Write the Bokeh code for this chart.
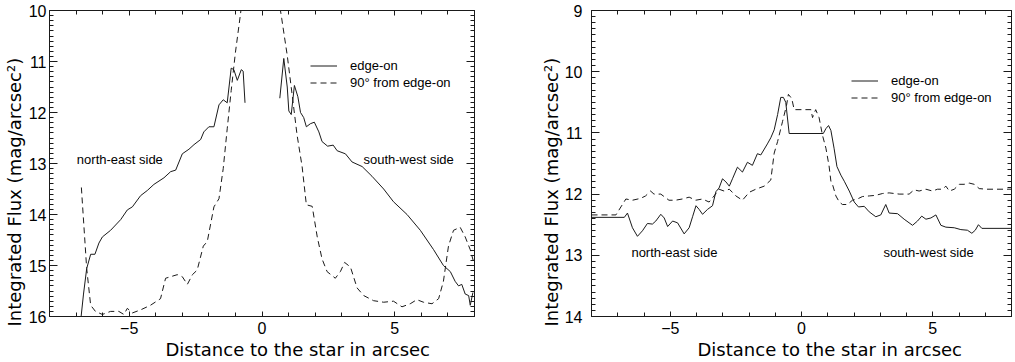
from bokeh.plotting import figure
from bokeh.models import Range1d, LinearAxis, FixedTicker, Legend, LegendItem, Label, Title
from bokeh.layouts import row
from bokeh.embed import file_html
from bokeh.resources import INLINE
import numpy as np

FONT = "Liberation Sans"
AXFONT = "DejaVu Sans"

# ---------------- data: left panel ----------------
left_ne_edge_x = [-6.82, -6.72, -6.60, -6.45, -6.29, -6.14, -6.01, -5.70, -5.32, -5.07, -4.88, -4.57,
                  -4.32, -4.07, -3.69, -3.44, -3.25, -3.00, -2.75, -2.56, -2.31, -2.19, -2.00, -1.81,
                  -1.62, -1.46, -1.31, -1.16, -1.06, -0.93, -0.78, -0.71, -0.64]
left_ne_edge_y = [16.05, 15.56, 15.06, 14.78, 14.78, 14.56, 14.44, 14.31, 14.10, 13.91, 13.85, 13.63,
                  13.53, 13.41, 13.28, 13.16, 13.13, 12.81, 12.72, 12.63, 12.53, 12.38, 12.28, 12.28,
                  11.85, 11.75, 11.81, 11.13, 11.16, 11.37, 11.16, 11.19, 11.81]

left_sw_edge_x = [0.67, 0.82, 0.95, 1.01, 1.10, 1.22, 1.35, 1.45, 1.57, 1.67, 1.82, 1.97, 2.14, 2.26,
                  2.47, 2.68, 2.83, 3.14, 3.39, 3.77, 4.14, 4.58, 4.95, 5.46, 5.96, 6.46, 6.83, 7.09,
                  7.27, 7.40, 7.52, 7.65, 7.78, 7.84, 7.94]
left_sw_edge_y = [11.72, 10.94, 11.50, 11.97, 12.04, 11.47, 11.69, 12.00, 12.10, 12.28, 12.22, 12.19,
                  12.38, 12.57, 12.66, 12.64, 12.75, 12.81, 12.97, 13.06, 13.25, 13.50, 13.75, 14.00,
                  14.31, 14.69, 15.00, 15.12, 15.31, 15.40, 15.37, 15.56, 15.59, 15.78, 15.53]

left_ne_perp_x = [-6.80, -6.60, -6.45, -6.27, -6.01, -5.70, -5.39, -5.20, -5.07, -4.88, -4.57, -4.20,
                  -3.82, -3.63, -3.44, -3.19, -3.00, -2.81, -2.62, -2.44, -2.21, -2.06, -1.81, -1.62,
                  -1.46, -1.31, -1.16, -1.00, -0.81, -0.76]
left_ne_perp_y = [13.47, 15.06, 15.78, 15.90, 15.96, 15.90, 15.90, 15.96, 15.84, 15.93, 15.87, 15.78,
                  15.65, 15.25, 15.22, 15.18, 15.22, 15.37, 15.18, 15.09, 14.62, 14.53, 13.85, 13.69,
                  13.10, 12.32, 11.57, 10.82, 10.07, 9.85]

left_sw_perp_x = [0.68, 0.74, 0.95, 1.13, 1.32, 1.51, 1.67, 1.89, 2.08, 2.26, 2.45, 2.76, 2.95, 3.11,
                  3.33, 3.58, 3.83, 4.20, 4.58, 4.95, 5.27, 5.58, 5.83, 6.08, 6.40, 6.65, 6.83, 7.02,
                  7.21, 7.46, 7.65, 7.84, 7.95]
left_sw_perp_y = [9.95, 10.15, 10.88, 11.63, 12.44, 13.06, 13.81, 13.84, 14.44, 14.87, 15.12, 15.25,
                  15.12, 14.94, 15.03, 15.44, 15.59, 15.69, 15.72, 15.70, 15.81, 15.75, 15.67, 15.72,
                  15.75, 15.65, 15.31, 14.62, 14.31, 14.25, 14.44, 14.69, 14.90]

# ---------------- data: right panel ----------------
right_edge_x = [-8.00, -6.75, -6.63, -6.44, -6.25, -6.06, -5.87, -5.68, -5.55, -5.36, -5.23, -5.10,
                -4.91, -4.72, -4.47, -4.28, -4.15, -4.02, -3.90, -3.77, -3.58, -3.39, -3.26, -3.14,
                -3.01, -2.88, -2.75, -2.63, -2.44, -2.25, -2.06, -1.87, -1.68, -1.55, -1.30, -1.17,
                -1.04, -0.91, -0.79, -0.69, -0.60, -0.47, 0.83, 0.93, 1.03, 1.12, 1.24, 1.35, 1.50,
                1.63, 1.82, 2.01, 2.17, 2.39, 2.58, 2.83, 3.02, 3.21, 3.34, 3.66, 3.91, 4.23, 4.42,
                4.58, 4.74, 4.93, 5.12, 5.31, 5.50, 5.82, 6.07, 6.32, 6.49, 6.62, 6.74, 6.87, 8.00]
right_edge_y = [12.38, 12.38, 12.31, 12.55, 12.69, 12.60, 12.48, 12.49, 12.44, 12.33, 12.39, 12.53,
                12.44, 12.47, 12.65, 12.55, 12.37, 12.19, 12.25, 12.33, 12.25, 12.19, 11.96, 11.90,
                11.75, 11.80, 11.87, 11.75, 11.56, 11.64, 11.48, 11.53, 11.34, 11.36, 11.18, 11.08,
                10.95, 10.70, 10.42, 10.42, 10.50, 11.01, 11.01, 10.93, 10.88, 10.96, 11.25, 11.55,
                11.69, 11.79, 11.95, 12.13, 12.21, 12.20, 12.29, 12.37, 12.34, 12.17, 12.31, 12.32,
                12.41, 12.51, 12.44, 12.36, 12.41, 12.39, 12.34, 12.51, 12.54, 12.55, 12.58, 12.59,
                12.64, 12.59, 12.50, 12.56, 12.56]

right_perp_x = [-8.00, -7.07, -6.88, -6.69, -6.44, -6.13, -5.94, -5.75, -5.62, -5.36, -5.05, -4.80,
                -4.54, -4.28, -4.03, -3.77, -3.52, -3.33, -3.14, -2.95, -2.75, -2.50, -2.25, -1.99,
                -1.74, -1.42, -1.17, -1.04, -0.91, -0.72, -0.57, -0.50, -0.37, -0.28, 0.36, 0.42,
                0.54, 0.67, 0.80, 0.93, 1.05, 1.12, 1.18, 1.31, 1.44, 1.56, 1.75, 1.94, 2.13, 2.32,
                2.58, 2.83, 3.09, 3.34, 3.53, 3.72, 3.91, 4.10, 4.29, 4.48, 4.74, 4.99, 5.18, 5.37,
                5.50, 5.63, 5.82, 6.01, 6.20, 6.39, 6.58, 6.77, 7.02, 8.00]
right_perp_y = [12.34, 12.34, 12.21, 12.08, 12.10, 12.07, 12.03, 11.95, 12.00, 12.00, 12.10, 12.10,
                12.08, 12.05, 12.10, 12.08, 12.13, 12.03, 11.92, 11.95, 11.92, 12.03, 12.10, 11.97,
                11.92, 11.87, 11.77, 11.33, 11.14, 10.81, 10.55, 10.37, 10.44, 10.62, 10.62, 10.75,
                10.62, 10.75, 11.04, 11.25, 11.54, 11.79, 11.84, 12.03, 12.13, 12.17, 12.17, 12.10,
                12.08, 12.04, 12.03, 12.02, 11.99, 11.98, 11.99, 12.00, 12.00, 12.00, 11.93, 11.95,
                11.92, 11.95, 11.92, 11.92, 11.87, 11.95, 11.92, 11.84, 11.84, 11.82, 11.84, 11.91,
                11.92, 11.92]

# ---------------- ticks / labels ----------------
x_ticks = [-5, 0, 5]
x_minor = list(range(-8, 9))
left_y_ticks = [10, 11, 12, 13, 14, 15, 16]
right_y_ticks = [9, 10, 11, 12, 13, 14]
x_title = "Distance to the star in arcsec"
y_title = "Integrated Flux (mag/arcsec²)"
series_names = ["edge-on", "90° from edge-on"]
notes_left = ["north-east side", "south-west side"]
notes_right = ["north-east side", "south-west side"]

INK = "#1a1a1a"
DASH = "6 4"
FRAME_H = 306


def style_axis(ax, ticker, labels=True, is_x=True, tick_standoff=4):
    ax.ticker = ticker
    ax.axis_line_color = INK
    ax.axis_line_width = 1
    ax.major_tick_line_color = INK
    ax.minor_tick_line_color = INK
    ax.major_tick_out = 0
    ax.minor_tick_out = 0
    if is_x:
        ax.major_tick_in = 5
        ax.minor_tick_in = 4
    else:
        ax.major_tick_in = 8
        ax.minor_tick_in = 4
    if labels:
        ax.major_label_text_font = FONT
        ax.major_label_text_font_size = "16px"
        ax.major_label_text_color = "black"
        ax.major_label_standoff = tick_standoff
    else:
        ax.major_label_overrides = {t: "" for t in ticker.ticks}
        ax.major_label_standoff = 0


def make_panel(frame_w, bl, br, y0, y1, yticks, ytick_so, xt_off, yt_so):
    p = figure(frame_width=frame_w, frame_height=FRAME_H, x_range=Range1d(-8, 8), y_range=Range1d(y1, y0),
               output_backend="svg", toolbar_location=None,
               min_border_left=bl, min_border_right=br, min_border_top=10, min_border_bottom=20)
    p.grid.visible = False
    p.outline_line_color = None
    minors_y = list(np.round(np.arange(y0, y1 + 0.001, 0.1), 2))
    style_axis(p.xaxis[0], FixedTicker(ticks=x_ticks, minor_ticks=x_minor), True, True, 5)
    style_axis(p.yaxis[0], FixedTicker(ticks=yticks, minor_ticks=minors_y), True, False, ytick_so)
    top = LinearAxis()
    style_axis(top, FixedTicker(ticks=x_ticks, minor_ticks=x_minor), False, True)
    right = LinearAxis()
    style_axis(right, FixedTicker(ticks=yticks, minor_ticks=minors_y), False, False)
    p.add_layout(top, "above")
    p.add_layout(right, "right")
    # axis titles, placed off-centre as in the reference
    p.add_layout(Title(text=x_title, align="left", offset=xt_off, standoff=0,
                       text_font=AXFONT, text_font_size="18px", text_font_style="normal",
                       text_color="black"), "below")
    p.add_layout(Title(text=y_title, align="left", offset=-10, standoff=yt_so,
                       text_font=AXFONT, text_font_size="18px", text_font_style="normal",
                       text_color="black"), "left")
    return p


# ---------- left ----------
p1 = make_panel(425, 49, 61, 10, 16, left_y_ticks, 3, 116, 1)
r1 = p1.line(left_ne_edge_x, left_ne_edge_y, line_color=INK, line_width=1)
p1.line(left_sw_edge_x, left_sw_edge_y, line_color=INK, line_width=1)
r2 = p1.line(left_ne_perp_x, left_ne_perp_y, line_color=INK, line_width=1, line_dash=DASH)
p1.line(left_sw_perp_x, left_sw_perp_y, line_color=INK, line_width=1, line_dash=DASH)

# ---------- right ----------
p2 = make_panel(420, 56, 2, 9, 14, right_y_ticks, 9, 106, 0)
r3 = p2.line(right_edge_x, right_edge_y, line_color=INK, line_width=1)
r4 = p2.line(right_perp_x, right_perp_y, line_color=INK, line_width=1, line_dash=DASH)


def add_legend(p, ra, rb, loc):
    lg = Legend(items=[LegendItem(label=series_names[0], renderers=[ra]),
                       LegendItem(label=series_names[1], renderers=[rb])],
                location=loc, padding=0, margin=0, spacing=0,
                glyph_width=27, glyph_height=17, label_height=17, label_standoff=13,
                border_line_alpha=0, background_fill_alpha=0,
                label_text_font=FONT, label_text_font_size="13px", label_text_color="black")
    p.add_layout(lg)


add_legend(p1, r1, r2, (261, 225))
add_legend(p2, r3, r4, (260, 210))


def add_note(p, x, y, text):
    p.add_layout(Label(x=x, y=y, text=text, text_font=FONT, text_font_size="13px",
                       text_color="black", text_baseline="middle", text_align="left"))


add_note(p1, -6.97, 12.93, notes_left[0])
add_note(p1, 3.82, 12.93, notes_left[1])
add_note(p2, -6.48, 12.95, notes_right[0])
add_note(p2, 3.12, 12.95, notes_right[1])

layout = row(p1, p2)
open("out.html", "w").write(file_html(layout, INLINE))
